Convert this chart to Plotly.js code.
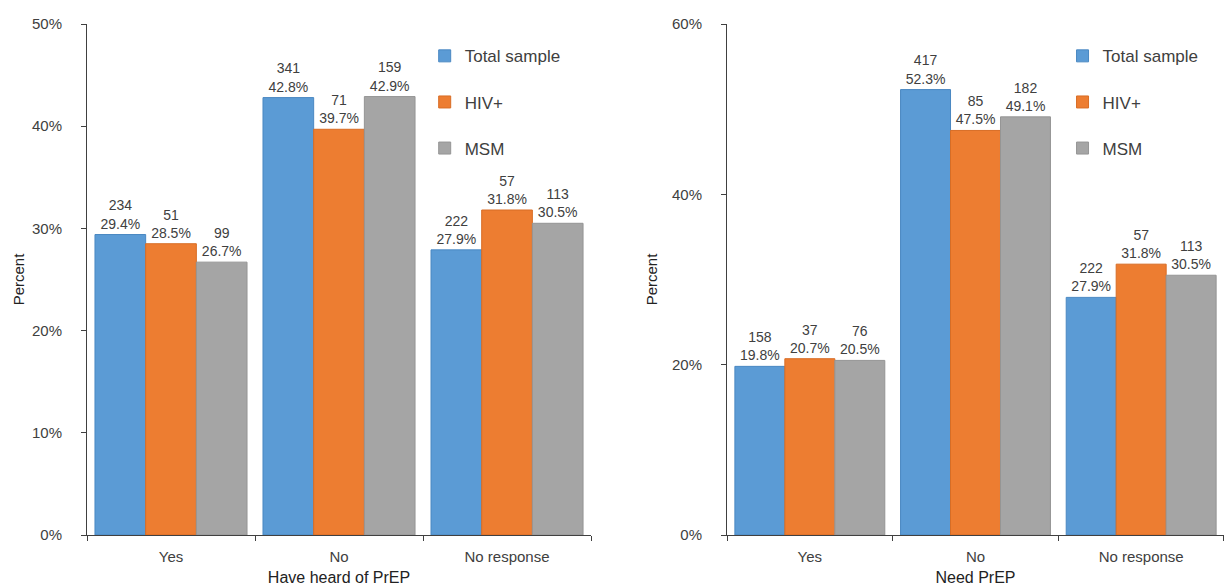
<!DOCTYPE html>
<html>
<head>
<meta charset="utf-8">
<script src="https://cdn.plot.ly/plotly-3.0.1.min.js"></script>
<style>html,body{margin:0;padding:0;background:#fff;}#chart{width:1224px;height:586px;}</style>
</head>
<body>
<div id="chart"></div>
<script>
var categories = ['Yes', 'No', 'No response'];
var seriesNames = ['Total sample', 'HIV+', 'MSM'];
var seriesColors = ['#5B9BD5', '#ED7D31', '#A5A5A5'];
var seriesEdges = ['#4A88C2', '#D86D25', '#959595'];

// Panel 1: Have heard of PrEP
var heardTotalPct = [29.4, 42.8, 27.9];
var heardHivPct   = [28.5, 39.7, 31.8];
var heardMsmPct   = [26.7, 42.9, 30.5];
var heardTotalN   = [234, 341, 222];
var heardHivN     = [51, 71, 57];
var heardMsmN     = [99, 159, 113];

// Panel 2: Need PrEP
var needTotalPct = [19.8, 52.3, 27.9];
var needHivPct   = [20.7, 47.5, 31.8];
var needMsmPct   = [20.5, 49.1, 30.5];
var needTotalN   = [158, 417, 222];
var needHivN     = [37, 85, 57];
var needMsmN     = [76, 182, 113];

var yTitle = 'Percent';
var xTitle1 = 'Have heard of PrEP';
var xTitle2 = 'Need PrEP';

var FONT = 'Liberation Sans, Arial, sans-serif';
var TXT = '#404040';

function makeBar(pcts, counts, i, axis, legendName, groupPrefix) {
  return {
    type: 'bar',
    name: seriesNames[i],
    x: categories,
    y: pcts,
    customdata: counts,
    text: pcts.map(function (p, k) { return counts[k] + '<br>' + p.toFixed(1) + '%'; }),
    textposition: 'outside',
    cliponaxis: false,
    textfont: {family: FONT, size: 14, color: TXT},
    marker: {color: seriesColors[i], line: {color: seriesEdges[i], width: 1}},
    xaxis: axis.x, yaxis: axis.y,
    legend: legendName,
    legendgroup: groupPrefix + i,
    hoverinfo: 'skip'
  };
}

var a1 = {x: 'x', y: 'y'};
var a2 = {x: 'x2', y: 'y2'};
var data = [
  makeBar(heardTotalPct, heardTotalN, 0, a1, 'legend', 'h'),
  makeBar(heardHivPct, heardHivN, 1, a1, 'legend', 'h'),
  makeBar(heardMsmPct, heardMsmN, 2, a1, 'legend', 'h'),
  makeBar(needTotalPct, needTotalN, 0, a2, 'legend2', 'n'),
  makeBar(needHivPct, needHivN, 1, a2, 'legend2', 'n'),
  makeBar(needMsmPct, needMsmN, 2, a2, 'legend2', 'n')
];

function xAxis(domain, title, anchor) {
  return {
    domain: domain, anchor: anchor, type: 'category',
    showline: true, linecolor: '#404040', linewidth: 1,
    ticks: 'outside', tickson: 'boundaries', ticklen: 5, tickcolor: '#404040',
    ticklabelstandoff: 8,
    tickfont: {family: FONT, size: 15, color: TXT},
    title: {text: title, font: {family: FONT, size: 16, color: '#222'}, standoff: 7},
    showgrid: false, zeroline: false, automargin: false, fixedrange: true
  };
}
function yAxis(range, dtick, anchor, standoff) {
  return {
    anchor: anchor, range: range, dtick: dtick, ticksuffix: '%',
    showline: true, linecolor: '#404040', linewidth: 1,
    ticks: 'outside', ticklen: 5, tickcolor: '#404040', ticklabelstandoff: 16,
    tickfont: {family: FONT, size: 15, color: TXT},
    title: {text: yTitle, font: {family: FONT, size: 15, color: '#222'}, standoff: standoff},
    showgrid: false, zeroline: false, automargin: false, fixedrange: true
  };
}

var legendCommon = {
  font: {family: FONT, size: 17, color: TXT},
  orientation: 'v', xanchor: 'left', yanchor: 'top',
  tracegroupgap: 21, itemwidth: 30, bgcolor: 'rgba(0,0,0,0)'
};

var layout = {
  width: 1224, height: 586,
  margin: {l: 87, r: 0, t: 24, b: 51},
  paper_bgcolor: '#fff', plot_bgcolor: '#fff',
  barmode: 'group', bargap: 0.095, bargroupgap: 0,
  showlegend: true,
  xaxis: xAxis([0, 0.4433], xTitle1, 'y'),
  yaxis: yAxis([0, 50], 10, 'x', 3),
  xaxis2: xAxis([0.5629, 1], xTitle2, 'y2'),
  yaxis2: yAxis([0, 60], 20, 'x2', 10),
  legend: Object.assign({x: 0.297, y: 0.972}, legendCommon),
  legend2: Object.assign({x: 0.858, y: 0.972}, legendCommon)
};

Plotly.newPlot('chart', data, layout, {displayModeBar: false, staticPlot: true});
</script>
</body>
</html>
